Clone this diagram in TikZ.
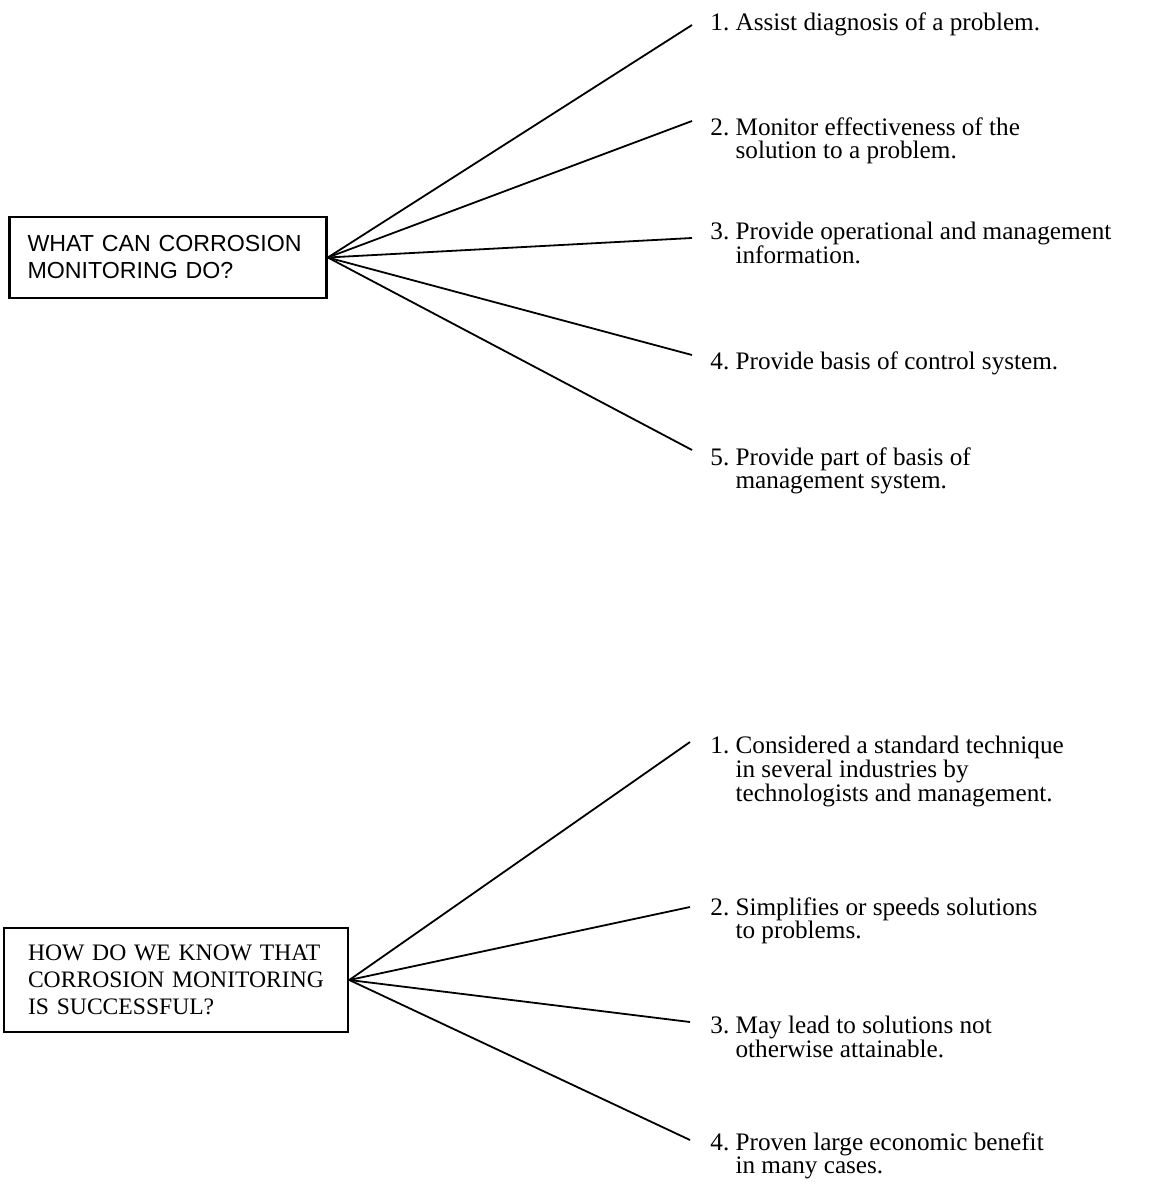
\documentclass[tikz,border=0pt]{standalone}
\usepackage{fontspec}
\usepackage{xcolor}
\setmainfont{Liberation Serif}
\setsansfont{Liberation Sans}
\tikzset{
  qbox/.style = {draw, line width=1.3pt, align=left, inner xsep=10pt, minimum height=40.5pt},
  answer/.style = {anchor=north west, align=left, inner sep=0pt, font=\fontsize{12.6}{11.8}\selectfont},
  spoke/.style = {line width=0.9pt}
}
\newcommand{\hang}{\hphantom{0.~}}
\begin{document}
\begin{tikzpicture}[x=0.5pt, y=-0.5pt]
            \useasboundingbox (0,0) rectangle (1155,1193);
            % questions
            \node[qbox, text width=140.5pt, inner xsep=9pt, font=\sffamily\fontsize{11.6}{13.5}\selectfont]
                (doq) at (168,257.5) {WHAT CAN CORROSION\\MONITORING DO?};
            \node[qbox, text width=148pt, inner xsep=12pt, minimum height=52pt, font=\fontsize{11.8}{13.5}\selectfont]
                (knowq) at (176,980) {HOW DO WE KNOW THAT\\CORROSION MONITORING\\IS SUCCESSFUL?};
            % answers
            \node[answer] (do1) at (710,12) {1.~Assist diagnosis of a problem.};
            \node[answer] (do2) at (710,117) {2.~Monitor effectiveness of the\\\hang solution to a problem.};
            \node[answer] (do3) at (710,222) {3.~Provide operational and management\\\hang information.};
            \node[answer] (do4) at (710,351) {4.~Provide basis of control system.};
            \node[answer] (do5) at (710,447) {5.~Provide part of basis of\\\hang management system.};
            \node[answer] (know1) at (710,736) {1.~Considered a standard technique\\\hang in several industries by\\\hang technologists and management.};
            \node[answer] (know2) at (710,897) {2.~Simplifies or speeds solutions\\\hang to problems.};
            \node[answer] (know3) at (710,1016) {3.~May lead to solutions not\\\hang otherwise attainable.};
            \node[answer] (know4) at (710,1132) {4.~Proven large economic benefit\\\hang in many cases.};
            % spokes
            \foreach \i/\dy in {1/-6.5pt, 2/-2pt, 3/-8pt, 4/-2pt, 5/-1.5pt}
                \draw[spoke] (doq.east) -- ([xshift=-9pt,yshift=\dy]do\i.north west);
            \foreach \i/\dy in {1/-3pt, 2/-5pt, 3/-3pt, 4/-4pt}
                \draw[spoke] (knowq.east) -- ([xshift=-10pt,yshift=\dy]know\i.north west);
        \end{tikzpicture}
\end{document}
